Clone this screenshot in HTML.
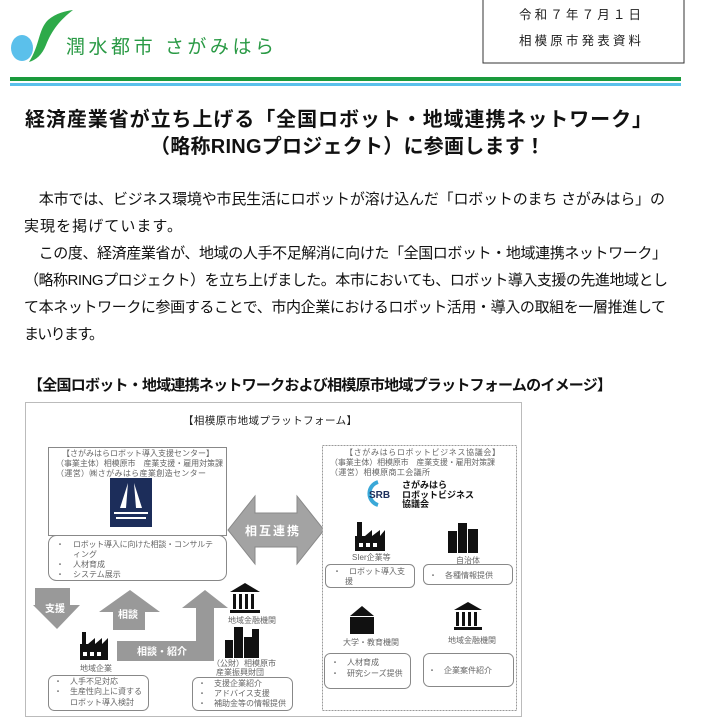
<!DOCTYPE html>
<html><head><meta charset="utf-8"><style>
html,body{margin:0;padding:0;background:#fff;}
svg{display:block;font-family:"Liberation Sans","Noto Sans CJK JP",sans-serif;}
.s{font-size:8px;fill:#666;}
</style></head><body>
<svg width="705" height="722" viewBox="0 0 705 722" xmlns="http://www.w3.org/2000/svg">
<ellipse cx="22" cy="48" rx="11" ry="13" fill="#5bc0eb"/>
<path d="M29 62 C40 45 38 30 48 20 C56 13 66 11 73 10 C60 20 52 30 46 45 C42 55 36 60 29 62Z" fill="#2eaa4a"/>
<text x="66" y="53" font-size="19" fill="#2a9a45" textLength="208">潤水都市 さがみはら</text>
<path d="M483 0 V63 H684 V0" fill="none" stroke="#333" stroke-width="1"/>
<text x="519" y="19" font-size="12.5" fill="#222" textLength="122">令和７年７月１日</text>
<text x="519" y="45" font-size="12.5" fill="#222" textLength="122">相模原市発表資料</text>
<rect x="10" y="77" width="671" height="4" fill="#1a9a3c"/>
<rect x="10" y="83" width="671" height="3" fill="#5bc0eb"/>
<text x="25" y="126" font-size="20" font-weight="bold" fill="#111" textLength="627">経済産業省が立ち上げる「全国ロボット・地域連携ネットワーク」</text>
<text x="150" y="153" font-size="20" font-weight="bold" fill="#111" textLength="395">（略称RINGプロジェクト）に参画します！</text>
<g font-size="15" fill="#111">
<text x="24" y="204" textLength="641">　本市では、ビジネス環境や市民生活にロボットが溶け込んだ「ロボットのまち さがみはら」の</text>
<text x="24" y="231" textLength="158">実現を掲げています。</text>
<text x="24" y="258" textLength="643">　この度、経済産業省が、地域の人手不足解消に向けた「全国ロボット・地域連携ネットワーク」</text>
<text x="24" y="285" textLength="644">（略称RINGプロジェクト）を立ち上げました。本市においても、ロボット導入支援の先進地域とし</text>
<text x="24" y="312" textLength="642">て本ネットワークに参画することで、市内企業におけるロボット活用・導入の取組を一層推進して</text>
<text x="24" y="339" textLength="80">まいります。</text>
</g>
<text x="28" y="390" font-size="15" font-weight="bold" fill="#111" textLength="584">【全国ロボット・地域連携ネットワークおよび相模原市地域プラットフォームのイメージ】</text>
<rect x="25.5" y="402.5" width="496" height="314" fill="#fff" stroke="#bbb"/>
<text x="183" y="424" font-size="10.5" fill="#222" textLength="174">【相模原市地域プラットフォーム】</text>
<rect x="48.5" y="447.5" width="178" height="88" fill="#fff" stroke="#888"/>
<text x="62" y="456" class="s" textLength="152">【さがみはらロボット導入支援センター】</text>
<text x="56" y="466" class="s" textLength="167">（事業主体）相模原市　産業支援・雇用対策課</text>
<text x="56" y="476" class="s" textLength="150">（運営）㈱さがみはら産業創造センター</text>
<rect x="110" y="478" width="42" height="49" fill="#1c2d5a"/>
<path d="M128 483 L120 508 L126 508Z M134 483 L142 508 L136 508Z" fill="#fff"/>
<rect x="114" y="512" width="34" height="2" fill="#fff"/><rect x="116" y="517" width="30" height="2" fill="#fff"/>
<rect x="48.5" y="535.5" width="178" height="45" rx="8" fill="#fff" stroke="#888"/>
<g class="s"><text x="56" y="547">・</text><text x="73" y="547" textLength="140">ロボット導入に向けた相談・コンサルテ</text>
<text x="73" y="557">ィング</text><text x="56" y="567">・</text><text x="73" y="567">人材育成</text>
<text x="56" y="577">・</text><text x="73" y="577">システム展示</text></g>
<path d="M228 530 L255 496 L255 513 L297 513 L297 496 L324 530 L297 564 L297 547 L255 547 L255 564Z" fill="#a3a3a3" stroke="#888"/>
<text x="245" y="535" font-size="12" fill="#fff" font-weight="bold" textLength="54">相互連携</text>
<rect x="322.5" y="445.5" width="194" height="265" fill="#fff" stroke="#999" stroke-dasharray="2,1"/>
<text x="345" y="455" class="s" textLength="155">【さがみはらロボットビジネス協議会】</text>
<text x="330" y="465" class="s" textLength="165">（事業主体）相模原市　産業支援・雇用対策課</text>
<text x="330" y="475" class="s" textLength="100">（運営）相模原商工会議所</text>
<path d="M378 482 A12 12 0 0 0 378 505" fill="none" stroke="#3aa8d8" stroke-width="4"/>
<text x="369" y="498" font-size="10" font-weight="bold" fill="#1c2d5a">SRB</text>
<text x="402" y="488" font-size="9" font-weight="bold" fill="#111">さがみはら</text>
<text x="402" y="498" font-size="9" font-weight="bold" fill="#111">ロボットビジネス</text>
<text x="402" y="507" font-size="9" font-weight="bold" fill="#111">協議会</text>
<g fill="#111">
<rect x="357" y="522" width="5" height="14"/><path d="M355 536 L365 536 L372 530 L372 536 L380 530 L380 536 L385 530 L385 551 L355 551Z"/>
</g>
<g fill="#fff"><rect x="359" y="543" width="4" height="4"/><rect x="366" y="543" width="4" height="4"/><rect x="373" y="543" width="4" height="4"/></g>
<text x="352" y="560" class="s">SIer企業等</text>
<g fill="#111"><rect x="448" y="531" width="9" height="22"/><rect x="458" y="523" width="9" height="30"/><rect x="468" y="529" width="10" height="24"/></g>
<text x="456" y="563" class="s">自治体</text>
<rect x="325.5" y="564.5" width="89" height="23" rx="5" fill="#fff" stroke="#888"/>
<text x="333" y="574" class="s">・　ロボット導入支</text><text x="345" y="584" class="s">援</text>
<rect x="423.5" y="564.5" width="89" height="20" rx="5" fill="#fff" stroke="#888"/>
<text x="429" y="578" class="s">・　各種情報提供</text>
<g fill="#111"><path d="M362 606 L350 616 L374 616Z"/><rect x="350" y="617" width="24" height="17"/></g>
<text x="343" y="645" class="s">大学・教育機関</text>
<g fill="#111"><path d="M468 602 L454 610 L482 610Z"/><rect x="456" y="612" width="3" height="14"/><rect x="462" y="612" width="3" height="14"/><rect x="468" y="612" width="3" height="14"/><rect x="474" y="612" width="3" height="14"/><rect x="454" y="627" width="28" height="3"/></g>
<text x="448" y="643" class="s">地域金融機関</text>
<rect x="324.5" y="653.5" width="86" height="35" rx="6" fill="#fff" stroke="#888"/>
<text x="331" y="665" class="s">・　人材育成</text><text x="331" y="676" class="s">・　研究シーズ提供</text>
<rect x="423.5" y="653.5" width="90" height="33" rx="6" fill="#fff" stroke="#888"/>
<text x="428" y="673" class="s">・　企業案件紹介</text>
<path d="M35 588 L70 588 L70 605 L80 605 L57 629 L33 605 L35 605Z" fill="#999"/>
<text x="45" y="612" font-size="10" fill="#fff" font-weight="bold">支援</text>
<path d="M130 590 L160 612 L145 612 L145 630 L113 630 L113 612 L99 612Z" fill="#999"/>
<text x="118" y="618" font-size="10" fill="#fff" font-weight="bold">相談</text>
<path d="M117 641 L196 641 L196 608 L182 608 L205 590 L228 608 L214 608 L214 661 L117 661Z" fill="#999"/>
<text x="137" y="655" font-size="10" fill="#fff" font-weight="bold">相談・紹介</text>
<g fill="#111"><rect x="82" y="632" width="4" height="12"/><path d="M80 644 L88 644 L95 638 L95 644 L102 638 L102 644 L108 638 L108 660 L80 660Z"/></g>
<g fill="#fff"><rect x="83" y="652" width="4" height="4"/><rect x="90" y="652" width="4" height="4"/><rect x="97" y="652" width="4" height="4"/></g>
<text x="80" y="671" class="s">地域企業</text>
<g fill="#111"><path d="M245 583 L230 592 L260 592Z"/><rect x="233" y="594" width="3" height="15"/><rect x="239" y="594" width="3" height="15"/><rect x="245" y="594" width="3" height="15"/><rect x="251" y="594" width="3" height="15"/><rect x="230" y="610" width="30" height="3"/></g>
<text x="228" y="623" class="s">地域金融機関</text>
<g fill="#111"><rect x="225" y="640" width="8" height="18"/><rect x="234" y="627" width="9" height="31"/><rect x="244" y="637" width="8" height="21"/><rect x="252" y="629" width="7" height="29"/></g>
<text x="212" y="666" class="s">（公財）相模原市</text>
<text x="216" y="675" class="s">産業振興財団</text>
<rect x="48.5" y="675.5" width="100" height="35" rx="6" fill="#fff" stroke="#888"/>
<text x="54" y="684" class="s">・　人手不足対応</text>
<text x="54" y="694" class="s">・　生産性向上に資する</text>
<text x="70" y="705" class="s">ロボット導入検討</text>
<rect x="192.5" y="677.5" width="100" height="33" rx="6" fill="#fff" stroke="#888"/>
<text x="198" y="686" class="s">・　支援企業紹介</text>
<text x="198" y="696" class="s">・　アドバイス支援</text>
<text x="198" y="706" class="s">・　補助金等の情報提供</text>
</svg>
</body></html>
